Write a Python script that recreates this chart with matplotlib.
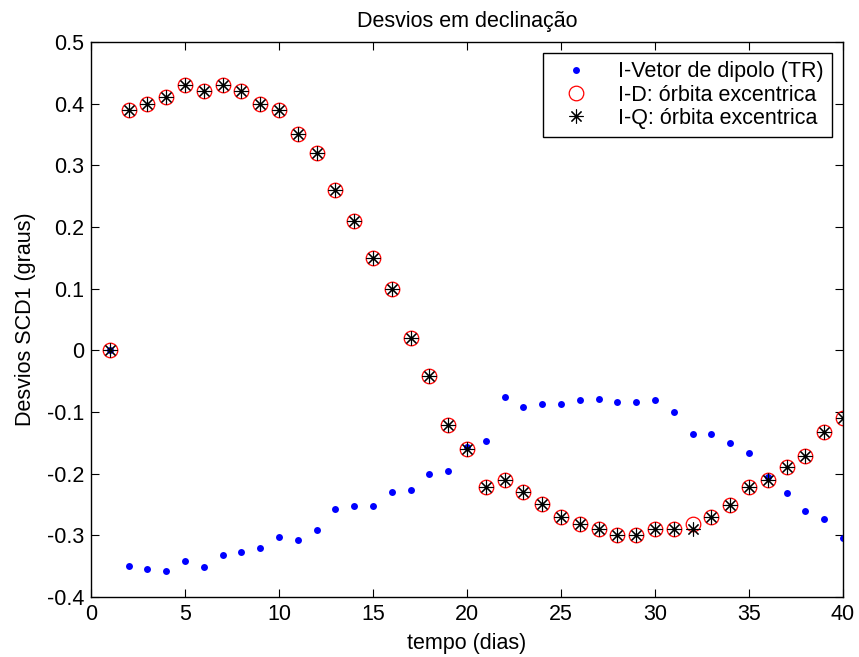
import numpy as np
import matplotlib
matplotlib.use("Agg")
import matplotlib.pyplot as plt

plt.rcParams['font.family'] = ['Liberation Sans', 'DejaVu Sans']

dias = np.arange(1, 41)

# I-Vetor de dipolo (TR)
tr = [0.0, -0.350, -0.355, -0.358, -0.342, -0.352, -0.332, -0.327, -0.321, -0.303,
      -0.308, -0.292, -0.258, -0.253, -0.253, -0.229, -0.227, -0.200, -0.195, -0.157,
      -0.147, -0.076, -0.092, -0.087, -0.087, -0.081, -0.079, -0.084, -0.084, -0.081,
      -0.100, -0.136, -0.136, -0.150, -0.166, -0.206, -0.231, -0.261, -0.274, -0.305]

# I-D: orbita excentrica
idd = [0.0, 0.39, 0.40, 0.41, 0.43, 0.42, 0.43, 0.42, 0.40, 0.39,
       0.35, 0.32, 0.26, 0.21, 0.15, 0.10, 0.02, -0.042, -0.121, -0.16,
       -0.221, -0.211, -0.23, -0.249, -0.27, -0.281, -0.29, -0.30, -0.30, -0.29,
       -0.29, -0.281, -0.27, -0.25, -0.221, -0.211, -0.189, -0.171, -0.132, -0.11]

# I-Q: orbita excentrica
iq = [0.0, 0.39, 0.40, 0.41, 0.43, 0.42, 0.43, 0.42, 0.40, 0.39,
      0.35, 0.32, 0.26, 0.21, 0.15, 0.10, 0.02, -0.042, -0.121, -0.16,
      -0.221, -0.211, -0.23, -0.249, -0.27, -0.281, -0.29, -0.30, -0.30, -0.29,
      -0.29, -0.29, -0.27, -0.25, -0.221, -0.211, -0.189, -0.171, -0.132, -0.11]

fs = 15.5

fig = plt.figure(figsize=(8.59, 6.57), dpi=100)
ax = fig.add_axes([91/859, 60/657, 752/859, 555/657])

ax.plot(dias, tr, linestyle='none', marker='o', markersize=5, color='b',
        markeredgewidth=0, label='I-Vetor de dipolo (TR)')
ax.plot(dias, idd, linestyle='none', marker='o', markersize=10.5, markerfacecolor='none',
        markeredgecolor='r', markeredgewidth=0.9, label='I-D: órbita excentrica')
ax.plot(dias, iq, linestyle='none', marker=(8, 2, 0), markersize=10, color='k',
        markeredgewidth=0.8, label='I-Q: órbita excentrica')

ax.set_xlim(0, 40)
ax.set_ylim(-0.4, 0.5)
ax.set_xticks(np.arange(0, 41, 5))
ax.set_yticks(np.arange(-0.4, 0.51, 0.1))
ax.set_yticklabels(['-0.4', '-0.3', '-0.2', '-0.1', '0', '0.1', '0.2', '0.3', '0.4', '0.5'])
ax.tick_params(direction='in', length=6, width=0.8, top=True, right=True, labelsize=fs, pad=5)
for s in ax.spines.values():
    s.set_linewidth(1.0)

ax.set_title('Desvios em declinação', fontsize=fs, pad=11)
ax.set_xlabel('tempo (dias)', fontsize=fs, labelpad=6)
ax.set_ylabel('Desvios SCD1 (graus)', fontsize=fs, labelpad=8)

leg = ax.legend(loc='upper right', fontsize=fs, fancybox=False, framealpha=1,
                edgecolor='k', borderaxespad=0.5, handletextpad=0.8, labelspacing=0.1,
                borderpad=0.4, handlelength=2.3)
leg.get_frame().set_linewidth(1.0)

fig.savefig('out.png', dpi=100)
